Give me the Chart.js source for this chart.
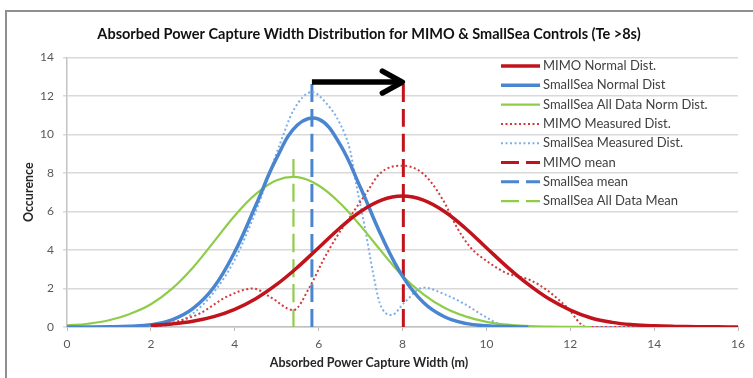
<!DOCTYPE html>
<html>
<head>
<meta charset="utf-8">
<script src="https://cdn.jsdelivr.net/npm/chart.js@4.4.1/dist/chart.umd.min.js"></script>
<style>
  html, body { margin: 0; padding: 0; background: #fff; }
  .frame { position: relative; width: 753px; height: 378px; }
  .frame .edge {
    position: absolute; left: 5px; top: 10px; right: 0; bottom: 0;
    border-left: 2px solid #8f8f8f; border-top: 2px solid #8f8f8f;
    pointer-events: none;
  }
  canvas { display: block; }
</style>
</head>
<body>
<div class="frame">
  <canvas id="chart" width="753" height="378"></canvas>
  <div class="edge"></div>
</div>
<script>
// x positions of the fitted normal curves
const xNormal = [0, 0.5, 1, 1.5, 2, 2.5, 3, 3.5, 4, 4.5, 5, 5.5, 6, 6.5, 7, 7.5, 8,
                 8.5, 9, 9.5, 10, 10.5, 11, 11.5, 12, 12.5, 13, 13.5, 14, 14.5, 15, 15.5, 16];

const mimoNormal = [null, null, null, null, 0.08, 0.16, 0.30, 0.54, 0.92, 1.47, 2.21, 3.11, 4.12, 5.13, 6.00, 6.59, 6.80,
                    6.59, 6.00, 5.13, 4.12, 3.11, 2.21, 1.45, 0.88, 0.47, 0.24, 0.12, 0.06, 0.03, 0.015, 0.008, 0.004];
const smallSeaNormal = [0, 0, 0.01, 0.04, 0.12, 0.37, 0.95, 2.06, 3.90, 6.31, 8.78, 10.50, 10.79, 9.52, 7.23, 4.72, 2.64,
                        1.27, 0.53, 0.19, 0.06, 0.02, 0, null, null, null, null, null, null, null, null, null, null];
const smallSeaAllNormal = [0.08, 0.17, 0.35, 0.68, 1.18, 1.98, 3.08, 4.42, 5.78, 6.90, 7.62, 7.78, 7.35, 6.45, 5.25, 3.92, 2.65,
                           1.70, 1.00, 0.55, 0.27, 0.12, 0.05, 0.02, 0.01, 0, null, null, null, null, null, null, null];

// measured distributions
const mimoMeasuredX = [2, 2.46, 3.17, 3.81, 4.44, 4.84, 5.4, 5.79, 6.11, 6.43, 6.75, 7.15, 7.46, 7.97, 8.5,
                       8.97, 9.29, 9.61, 10.09, 10.48, 11.04, 11.44, 11.91, 12.39, 13, 14, 15, 16];
const mimoMeasured = [0, 0.19, 0.71, 1.57, 2.0, 1.57, 0.88, 2.09, 3.47, 4.68, 5.72, 7.0, 7.97, 8.38, 7.95,
                      6.58, 5.2, 4.16, 3.3, 2.8, 2.44, 1.92, 1.05, 0, 0, 0, 0, 0];
const smallSeaMeasuredX = [2, 2.5, 3, 3.5, 4, 4.5, 5.08, 5.4, 5.84, 6.19, 6.51, 6.75, 6.91, 7.1, 7.3, 7.46,
                           7.74, 8.04, 8.5, 9.0, 9.45, 10.0, 10.4, 11, 12, 13, 14, 15, 16];
const smallSeaMeasured = [0, 0.15, 0.7, 1.8, 3.5, 6.0, 9.52, 11.25, 12.2, 11.6, 10.56, 9.18, 7.27, 5.2, 2.78, 1.23,
                          0.62, 1.26, 2.05, 1.7, 1.23, 0.5, 0.08, 0, 0, 0, 0, 0, 0];

// mean markers: MIMO, SmallSea, SmallSea all data
const meanX = [8.02, 5.84, 5.40];
const meanTop = [12.7, 12.8, 9.0];

// arrow from SmallSea mean to MIMO mean
const arrowFromX = 5.84;
const arrowToX = 8.02;
const arrowY = 12.72;

function pts(xs, ys) {
    return xs.map(function (x, i) { return { x: x, y: ys[i] }; });
}
function meanLine(i) {
    return [{ x: meanX[i], y: 0 }, { x: meanX[i], y: meanTop[i] }];
}

const RED = '#c0131b', BLUE = '#4a86d0', GREEN = '#8fcc4a';
const RED_DOT = '#d23a3a', BLUE_DOT = '#7eaee6';
const FONT = 'Lato';

const arrowPlugin = {
    id: 'meanArrow',
    afterDatasetsDraw(chart) {
        const ctx = chart.ctx, xs = chart.scales.x, ys = chart.scales.y;
        const x1 = xs.getPixelForValue(arrowFromX);
        const x2 = xs.getPixelForValue(arrowToX);
        const y = ys.getPixelForValue(arrowY);
        ctx.save();
        ctx.strokeStyle = '#000';
        ctx.lineWidth = 5.5;
        ctx.beginPath();
        ctx.moveTo(x1, y);
        ctx.lineTo(x2 - 3, y);
        ctx.stroke();
        ctx.lineCap = 'round';
        ctx.lineJoin = 'round';
        ctx.beginPath();
        ctx.moveTo(x2 - 21, y - 11);
        ctx.lineTo(x2 - 1, y);
        ctx.lineTo(x2 - 21, y + 11);
        ctx.stroke();
        ctx.restore();
    }
};

const legendPlugin = {
    id: 'insideLegend',
    afterDraw(chart, args, o) {
        const ctx = chart.ctx;
        ctx.save();
        ctx.font = o.fontSize + 'px ' + FONT;
        ctx.textBaseline = 'middle';
        chart.data.datasets.forEach(function (ds, i) {
            const y = o.top + i * o.rowHeight;
            ctx.strokeStyle = ds.borderColor;
            ctx.lineWidth = ds.borderWidth;
            ctx.setLineDash(ds.borderDash || []);
            ctx.beginPath();
            ctx.moveTo(o.left, y);
            ctx.lineTo(o.left + o.sample, y);
            ctx.stroke();
            ctx.setLineDash([]);
            ctx.fillStyle = '#404040';
            ctx.fillText(ds.label, o.left + o.sample + o.gap, y);
        });
        ctx.restore();
    }
};

const smooth = { cubicInterpolationMode: 'default', tension: 0.4 };

new Chart(document.getElementById('chart'), {
    type: 'line',
    data: {
        datasets: [
            Object.assign({ label: 'MIMO Normal Dist.', data: pts(xNormal, mimoNormal), borderColor: RED, borderWidth: 3.5 }, smooth),
            Object.assign({ label: 'SmallSea Normal Dist', data: pts(xNormal, smallSeaNormal), borderColor: BLUE, borderWidth: 3.5 }, smooth),
            Object.assign({ label: 'SmallSea All Data Norm Dist.', data: pts(xNormal, smallSeaAllNormal), borderColor: GREEN, borderWidth: 2.2 }, smooth),
            { label: 'MIMO Measured Dist.', data: pts(mimoMeasuredX, mimoMeasured), borderColor: RED_DOT, borderWidth: 2, borderDash: [2, 2.5] },
            { label: 'SmallSea Measured Dist.', data: pts(smallSeaMeasuredX, smallSeaMeasured), borderColor: BLUE_DOT, borderWidth: 2, borderDash: [2, 2.5] },
            { label: 'MIMO mean', data: meanLine(0), borderColor: RED, borderWidth: 3, borderDash: [18, 7] },
            { label: 'SmallSea mean', data: meanLine(1), borderColor: BLUE, borderWidth: 3, borderDash: [18, 7] },
            { label: 'SmallSea All Data Mean', data: meanLine(2), borderColor: GREEN, borderWidth: 2.2, borderDash: [18, 7] }
        ]
    },
    options: {
        responsive: false,
        animation: false,
        layout: { padding: { left: 0, right: 15, top: 0, bottom: 0 } },
        elements: {
            point: { radius: 0 },
            line: { cubicInterpolationMode: 'monotone', fill: false }
        },
        plugins: {
            legend: { display: false },
            tooltip: { enabled: false },
            title: {
                display: true,
                text: 'Absorbed Power Capture Width Distribution for MIMO & SmallSea Controls (Te >8s)',
                font: { family: FONT, size: 14.5, weight: 'bold' },
                color: '#111',
                padding: { top: 26, bottom: 14 }
            },
            subtitle: {
                display: true,
                position: 'bottom',
                text: 'Absorbed Power Capture Width (m)',
                font: { family: FONT, size: 12.5, weight: 'bold' },
                color: '#262626',
                padding: { top: 4, bottom: 8 }
            },
            insideLegend: { left: 501, top: 66, rowHeight: 19.3, sample: 39, gap: 3, fontSize: 13 }
        },
        scales: {
            x: {
                type: 'linear',
                min: 0,
                max: 16,
                ticks: { stepSize: 2, padding: 6, color: '#595959', font: { family: FONT, size: 12 } },
                grid: { drawOnChartArea: false, drawTicks: true, tickLength: 4, color: '#bfbfbf' },
                border: { color: '#bfbfbf', width: 1.5 },
                afterFit: function (s) { s.height = 24; }
            },
            y: {
                min: 0,
                max: 14,
                ticks: { stepSize: 2, padding: 9, color: '#595959', font: { family: FONT, size: 12 } },
                grid: { color: '#d9d9d9', lineWidth: 1.5, tickLength: 4 },
                border: { color: '#c4c4c4', width: 1.5 },
                title: {
                    display: true,
                    text: 'Occurence',
                    font: { family: FONT, size: 12.5, weight: 'bold' },
                    color: '#262626',
                    padding: { top: 21, bottom: 0 }
                },
                afterFit: function (s) { s.width = 67; }
            }
        }
    },
    plugins: [arrowPlugin, legendPlugin]
});
</script>
</body>
</html>
